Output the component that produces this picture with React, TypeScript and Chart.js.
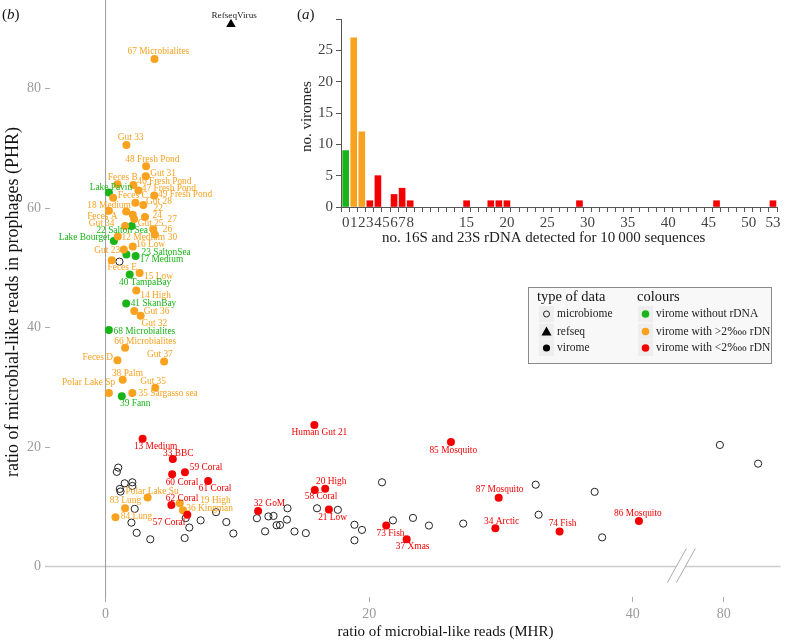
import React, { useEffect, useRef } from 'react';
import { Chart, registerables } from 'chart.js';

Chart.register(...registerables);

const SERIF = "'Liberation Serif', 'DejaVu Serif', serif";

// ---------------- scatter data (b) ----------------
const greenNames = ['Lake Pavin', '22 Salton Sea', 'Lake Bourget', '23 SaltonSea', '17 Medium', '40 TampaBay', '41 SkanBay', '68 Microbialites', '39 Fann'];
const greenMHR = [0.25, 1.98, 0.63, 1.58, 2.28, 1.83, 1.56, 0.25, 1.23];
const greenPHR = [62.6, 57.02, 54.49, 52.25, 51.97, 48.9, 44.03, 39.59, 28.5];

const orangeNames = ['67 Microbialites', 'Gut 33', '48 Fresh Pond', 'Gut 31', 'Feces B', '46 Fresh Pond', '47 Fresh Pond', 'Feces C', '49 Fresh Pond', '18 Medium', 'Feces A', 'Gut 28', '22', '27', '24', 'Gut 25', 'Gut 34', '26', '30', '12 Medium', '16 Low', 'Gut 23', 'Feces E', '15 Low', '14 High', 'Gut 36', 'Gut 32', '66 Microbialites', 'Feces D', 'Gut 37', '38 Palm', 'Polar Lake Sp', 'Gut 35', '35 Sargasso sea', 'Polar Lake Su', '83 Lung', '84 Lung', '19 High', '36 Kingman'];
const orangeMHR = [3.71, 1.58, 3.07, 3.05, 0.9, 2.11, 2.49, 2.26, 3.69, 0.57, 0.25, 2.86, 1.56, 2.06, 2.99, 2.16, 1.48, 3.61, 3.74, 0.93, 2.06, 1.38, 0.47, 2.58, 2.33, 2.18, 2.66, 1.48, 0.9, 4.44, 1.3, 0.25, 3.77, 2.03, 3.19, 1.48, 0.75, 5.63, 5.87];
const orangePHR = [84.98, 70.56, 66.99, 65.33, 63.98, 63.87, 62.94, 60.9, 62.12, 61.73, 59.54, 60.53, 59.42, 58.88, 58.5, 58.17, 57.02, 56.46, 55.59, 55.26, 53.57, 53.08, 51.27, 49.13, 46.22, 42.76, 41.99, 36.63, 34.54, 34.33, 31.25, 29.06, 29.93, 29.06, 11.56, 9.75, 8.27, 10.58, 9.42];

const redNames = ['13 Medium', '33 BBC', '60 Coral', '59 Coral', '61 Coral', '62 Coral', '57 Coral', '32 GoM', 'Human Gut 21', '20 High', '58 Coral', '21 Low', '73 Fish', '37 Xmas', '85 Mosquito', '87 Mosquito', '34 Arctic', '74 Fish', '86 Mosquito'];
const redMHR = [2.81, 5.1, 5.05, 6.02, 7.78, 4.99, 6.2, 11.57, 15.84, 16.66, 15.87, 16.94, 21.29, 22.84, 26.2, 29.82, 29.57, 34.44, 40.46];
const redPHR = [21.38, 17.98, 15.46, 15.79, 14.31, 10.31, 8.67, 9.29, 23.68, 13.04, 12.83, 9.54, 6.86, 4.56, 20.84, 11.51, 6.41, 5.87, 7.62];

const microbiomeMHR = [1.05, 0.96, 0.85, 1.45, 2.03, 2.03, 1.08, 1.13, 2.21, 1.96, 2.36, 3.39, 6.0, 6.08, 6.35, 7.21, 8.38, 9.16, 9.69, 11.48, 12.1, 12.35, 12.74, 12.97, 13.23, 13.8, 13.76, 14.33, 15.19, 16.04, 17.62, 18.88, 19.45, 18.88, 20.97, 21.8, 23.32, 24.53, 27.13, 32.63, 32.85, 37.1, 37.67, 79.7, 82.6];
const microbiomePHR = [51.04, 16.56, 15.84, 13.93, 14.1, 13.49, 12.99, 12.55, 9.65, 7.35, 5.64, 4.56, 4.77, 8.11, 6.53, 7.73, 9.1, 7.45, 5.54, 8.09, 5.89, 8.39, 8.47, 6.91, 6.96, 9.75, 7.85, 5.87, 5.59, 9.75, 9.49, 6.99, 6.13, 4.39, 14.1, 7.73, 8.14, 6.86, 7.19, 13.7, 8.67, 12.5, 4.88, 20.35, 17.22];

const refseqNames = ['RefseqVirus'];
const refseqMHR = [9.51];
const refseqPHR = [90.79];

const xTickValues = [0, 20, 40, 80];
const yTickValues = [0, 20, 40, 60, 80];

// ---------------- inset data (a) ----------------
const rdnaGreenCount = [0];
const rdnaGreenViromes = [9];
const rdnaOrangeCount = [1, 2];
const rdnaOrangeViromes = [27, 12];
const rdnaRedCount = [3, 4, 6, 7, 8, 15, 18, 19, 20, 29, 46, 53];
const rdnaRedViromes = [1, 5, 2, 3, 1, 1, 1, 1, 1, 1, 1, 1];
const insetXLabels = [0, 1, 2, 3, 4, 5, 6, 7, 8, 15, 20, 25, 30, 35, 40, 45, 50, 53];
const insetYTicks = [0, 5, 10, 15, 20, 25, 30];

// ---------------- styling ----------------
const GREEN = '#19B419';
const ORANGE = '#F8A21F';
const RED = '#F50000';

// axis break: values above BREAK_AT are shifted left by BREAK_SHIFT
const BREAK_AT = 60;
const BREAK_SHIFT = 33.1;
const BREAK_POS = 43.64;
const toAxisX = (v: number) => (v > BREAK_AT ? v - BREAK_SHIFT : v);

// label nudges in pixels (dx, dy of label centre relative to point)
const labelNudge: Record<string, [number, number]> = {
  'Lake Pavin': [2, -5.4], '22 Salton Sea': [-9.5, 4.7], 'Lake Bourget': [-29.6, -3], '23 SaltonSea': [39.7, -2.3],
  '17 Medium': [25.8, 3.3], '40 TampaBay': [15.5, 8], '41 SkanBay': [27.3, 0.4], '68 Microbialites': [35.5, 1.4], '39 Fann': [13.4, 7.3],
  '67 Microbialites': [3.9, -7.6], 'Gut 33': [4.2, -7], '48 Fresh Pond': [6.3, -7], 'Gut 31': [17.3, -2.8], 'Feces B': [5.3, -7],
  '46 Fresh Pond': [31, -3.4], '47 Fresh Pond': [30.5, -2], 'Feces C': [-2.7, -6.7], '49 Fresh Pond': [30.8, -0.6], '18 Medium': [-4, 7.3],
  'Feces A': [-6.5, 5.3], 'Gut 28': [15.7, -3], '22': [32, -2.7], '27': [39.4, 4.3], '24': [12.3, -1.3], 'Gut 25': [16.6, 4.4],
  'Gut 34': [-23.5, -2.6], '26': [14.3, 0], '30': [17.6, 2.7], '12 Medium': [25.5, 1], '16 Low': [17.9, -2], 'Gut 23': [-16.6, 1],
  'Feces E': [10.5, 7.4], '15 Low': [18.9, 3.7], '14 High': [19.3, 5], 'Gut 36': [22.2, 0.7], 'Gut 32': [13.7, 7.6],
  '66 Microbialites': [20.1, -6.3], 'Feces D': [-19.7, -2.7], 'Gut 37': [-4.2, -6.6], '38 Palm': [4.7, -6.7], 'Polar Lake Sp': [-20.3, -10.3],
  'Gut 35': [-2.2, -6.3], '35 Sargasso sea': [35.8, 0.7], 'Polar Lake Su': [4.5, -6.4], '83 Lung': [0.3, -7.7], '84 Lung': [21, -0.7],
  '19 High': [35.6, -3], '36 Kingman': [26.7, -1.4],
  '13 Medium': [13, 8], '33 BBC': [5.5, -6], '60 Coral': [9.8, 8], '59 Coral': [21.2, -4.7], '61 Coral': [7, 7.7], '62 Coral': [10.7, -6.3],
  '57 Coral': [-18.3, 7.4], '32 GoM': [11.3, -7.5], 'Human Gut 21': [5, 7.3], '20 High': [6, -7.4], '58 Coral': [6.3, 6.3], '21 Low': [3.7, 8.3],
  '73 Fish': [4.3, 7.7], '37 Xmas': [6, 7.7], '85 Mosquito': [2.3, 8.4], '87 Mosquito': [1, -8], '34 Arctic': [6.3, -6.3], '74 Fish': [3, -7.6],
  '86 Mosquito': [-1, -7.7], 'RefseqVirus': [3.2, -9],
};

const pts = (xs: number[], ys: number[]) => xs.map((x, i) => ({ x: toAxisX(x), y: ys[i] }));

const mainPlugin = {
  id: 'mainDecor',
  beforeDatasetsDraw(chart: any) {
    const { ctx, chartArea } = chart;
    const xs = chart.scales.x;
    const ys = chart.scales.y;
    const y0 = ys.getPixelForValue(0);
    const x0 = xs.getPixelForValue(0);
    const xb = xs.getPixelForValue(BREAK_POS);
    ctx.save();
    ctx.strokeStyle = '#cccccc';
    ctx.lineWidth = 1.5;
    ctx.beginPath();
    ctx.moveTo(chartArea.left - 5, y0);
    ctx.lineTo(xb - 4.5, y0);
    ctx.moveTo(xb + 4.5, y0);
    ctx.lineTo(chartArea.right, y0);
    ctx.stroke();
    ctx.strokeStyle = '#aaaaaa';
    ctx.lineWidth = 1;
    ctx.beginPath();
    for (const off of [-4.5, 4.5]) {
      ctx.moveTo(xb + off - 9, y0 + 16);
      ctx.lineTo(xb + off + 10, y0 - 18);
    }
    ctx.stroke();
    ctx.strokeStyle = '#9a9a9a';
    ctx.lineWidth = 1;
    ctx.beginPath();
    ctx.moveTo(x0, 0);
    ctx.lineTo(x0, chartArea.bottom);
    ctx.stroke();
    ctx.restore();
  },
  afterDatasetsDraw(chart: any) {
    const { ctx } = chart;
    ctx.save();
    ctx.textAlign = 'center';
    ctx.textBaseline = 'middle';
    chart.data.datasets.forEach((ds: any, i: number) => {
      if (!ds.names) return;
      const meta = chart.getDatasetMeta(i);
      ctx.fillStyle = ds.labelColor;
      ctx.font = `${ds.labelSize || 9.4}px ${SERIF}`;
      ds.names.forEach((name: string, j: number) => {
        const el = meta.data[j];
        const [dx, dy] = labelNudge[name] || [0, -8];
        ctx.fillText(name, el.x + dx, el.y + dy);
      });
    });
    ctx.restore();
  },
  afterDraw(chart: any) {
    const { ctx } = chart;
    ctx.save();
    ctx.fillStyle = '#111';
    ctx.textBaseline = 'middle';
    ctx.textAlign = 'left';
    ctx.font = `15px ${SERIF}`;
    let x = 2;
    ctx.fillText('(', x, 15);
    x += ctx.measureText('(').width;
    ctx.font = `italic 15px ${SERIF}`;
    ctx.fillText('b', x, 15);
    x += ctx.measureText('b').width;
    ctx.font = `15px ${SERIF}`;
    ctx.fillText(')', x, 15);

    ctx.fillStyle = '#111';
    ctx.textAlign = 'center';
    ctx.font = `15px ${SERIF}`;
    ctx.fillText('ratio of microbial-like reads (MHR)', 445.5, 632);
    ctx.save();
    ctx.translate(13, 302);
    ctx.rotate(-Math.PI / 2);
    ctx.font = `18px ${SERIF}`;
    ctx.fillText('ratio of microbial-like reads in prophages (PHR)', 0, 0);
    ctx.restore();

    ctx.fillStyle = '#f8f8f8';
    ctx.fillRect(528, 287, 243, 76);
    ctx.strokeStyle = '#8a8a8a';
    ctx.lineWidth = 1;
    ctx.strokeRect(528.5, 287.5, 243, 76);
    ctx.fillStyle = '#111';
    ctx.textAlign = 'left';
    ctx.font = `14.5px ${SERIF}`;
    ctx.fillText('type of data', 537, 297);
    ctx.fillText('colours', 637, 297);
    const rows = [314, 331.5, 348];
    ctx.fillStyle = '#eeeeee';
    rows.forEach((ry) => {
      ctx.fillRect(539, ry - 8, 15, 16);
      ctx.fillRect(638, ry - 8, 15, 16);
    });
    ctx.strokeStyle = '#222';
    ctx.lineWidth = 1;
    ctx.beginPath();
    ctx.arc(546.5, rows[0], 3, 0, Math.PI * 2);
    ctx.stroke();
    ctx.fillStyle = '#000';
    ctx.beginPath();
    ctx.moveTo(546.5, rows[1] - 5);
    ctx.lineTo(551.5, rows[1] + 4);
    ctx.lineTo(541.5, rows[1] + 4);
    ctx.closePath();
    ctx.fill();
    ctx.beginPath();
    ctx.arc(546.5, rows[2], 3.6, 0, Math.PI * 2);
    ctx.fill();
    [GREEN, ORANGE, RED].forEach((c, k) => {
      ctx.fillStyle = c;
      ctx.beginPath();
      ctx.arc(645.5, rows[k], 3.8, 0, Math.PI * 2);
      ctx.fill();
    });
    ctx.fillStyle = '#222';
    ctx.font = `11.5px ${SERIF}`;
    ctx.fillText('microbiome', 557, rows[0]);
    ctx.fillText('refseq', 557, rows[1]);
    ctx.fillText('virome', 557, rows[2]);
    ctx.fillText('virome without rDNA', 656, rows[0]);
    ctx.fillText('virome with >2\u2031 rDN', 656, rows[1]);
    ctx.fillText('virome with <2\u2031 rDN', 656, rows[2]);
    ctx.restore();
  },
};

const insetPlugin = {
  id: 'insetDecor',
  afterDraw(chart: any) {
    const { ctx } = chart;
    ctx.save();
    ctx.fillStyle = '#222';
    ctx.textBaseline = 'middle';
    ctx.textAlign = 'left';
    ctx.font = `15px ${SERIF}`;
    let x = 27;
    ctx.fillText('(', x, 15);
    x += ctx.measureText('(').width;
    ctx.font = `italic 15px ${SERIF}`;
    ctx.fillText('a', x, 15);
    x += ctx.measureText('a').width;
    ctx.font = `15px ${SERIF}`;
    ctx.fillText(')', x, 15);
    ctx.textAlign = 'center';
    ctx.fillStyle = '#222';
    ctx.fillText('no. 16S and 23S rDNA detected for 10\u2009000 sequences', 273.7, 238);
    ctx.save();
    ctx.translate(36.7, 116.7);
    ctx.rotate(-Math.PI / 2);
    ctx.fillText('no. viromes', 0, 0);
    ctx.restore();
    ctx.restore();
  },
};

function mainConfig(): any {
  return {
    type: 'scatter',
    data: {
      datasets: [
        { label: 'refseq', data: pts(refseqMHR, refseqPHR), names: refseqNames, labelColor: '#222', labelSize: 9.2, pointStyle: 'triangle', pointRadius: 5.5, backgroundColor: '#000', borderColor: '#000', borderWidth: 0 },
        { label: 'red', data: pts(redMHR, redPHR), names: redNames, labelColor: RED, pointRadius: 4, backgroundColor: RED, borderWidth: 0 },
        { label: 'orange', data: pts(orangeMHR, orangePHR), names: orangeNames, labelColor: ORANGE, pointRadius: 4, backgroundColor: ORANGE, borderWidth: 0 },
        { label: 'green', data: pts(greenMHR, greenPHR), names: greenNames, labelColor: GREEN, pointRadius: 4, backgroundColor: GREEN, borderWidth: 0 },
        { label: 'microbiome', data: pts(microbiomeMHR, microbiomePHR), pointRadius: 3.6, backgroundColor: 'rgba(255,255,255,0)', borderColor: '#222', borderWidth: 1 },
      ],
    },
    options: {
      responsive: false,
      animation: false,
      devicePixelRatio: 1,
      events: [],
      layout: { padding: { left: 0, right: 0, top: 2, bottom: 0 } },
      plugins: { legend: { display: false }, tooltip: { enabled: false }, title: { display: false } },
      scales: {
        x: {
          type: 'linear',
          min: -4.217,
          max: 51.2,
          afterFit: (s: any) => { s.height = 43; },
          afterBuildTicks: (s: any) => { s.ticks = xTickValues.map((v) => ({ value: toAxisX(v) })); },
          ticks: {
            autoSkip: false,
            maxRotation: 0,
            padding: 4,
            color: '#9a9a9a',
            font: { family: SERIF, size: 14 },
            callback: (_v: any, i: number) => String(xTickValues[i]),
          },
          grid: { drawOnChartArea: false, drawTicks: true, tickLength: 5, tickColor: '#aaaaaa' },
          border: { display: false },
        },
        y: {
          type: 'linear',
          min: -5.1,
          max: 92.76,
          afterFit: (s: any) => { s.width = 50; },
          afterBuildTicks: (s: any) => { s.ticks = yTickValues.map((v) => ({ value: v })); },
          ticks: {
            autoSkip: false,
            padding: 4,
            color: '#9a9a9a',
            font: { family: SERIF, size: 14 },
            callback: (v: any) => String(v),
          },
          grid: { drawOnChartArea: false, drawTicks: true, tickLength: 5, tickColor: '#aaaaaa' },
          border: { display: false },
        },
      },
    },
    plugins: [mainPlugin],
  };
}

function insetConfig(): any {
  const bars = (xs: number[], ys: number[]) => xs.map((x, i) => ({ x, y: ys[i] }));
  return {
    type: 'bar',
    data: {
      datasets: [
        { label: 'green', data: bars(rdnaGreenCount, rdnaGreenViromes), backgroundColor: GREEN, barThickness: 6, grouped: false },
        { label: 'orange', data: bars(rdnaOrangeCount, rdnaOrangeViromes), backgroundColor: ORANGE, barThickness: 6, grouped: false },
        { label: 'red', data: bars(rdnaRedCount, rdnaRedViromes), backgroundColor: RED, barThickness: 6, grouped: false },
      ],
    },
    options: {
      responsive: false,
      animation: false,
      devicePixelRatio: 1,
      events: [],
      layout: { padding: { left: 0, right: 9, top: 19, bottom: 0 } },
      plugins: { legend: { display: false }, tooltip: { enabled: false }, title: { display: false } },
      scales: {
        x: {
          type: 'linear',
          offset: false,
          min: -0.58,
          max: 53.5,
          afterFit: (s: any) => { s.height = 43; },
          afterBuildTicks: (s: any) => {
            const t: any[] = [];
            for (let v = 0; v <= 53; v++) t.push({ value: v });
            s.ticks = t;
          },
          ticks: {
            autoSkip: false,
            maxRotation: 0,
            minRotation: 0,
            padding: 2,
            color: '#444',
            font: { family: SERIF, size: 15 },
            callback: (v: any) => (insetXLabels.includes(v) ? String(v) : ''),
          },
          grid: { drawOnChartArea: false, drawTicks: true, tickLength: 5, tickColor: '#555' },
          border: { display: true, color: '#555', width: 1 },
        },
        y: {
          type: 'linear',
          min: 0,
          max: 30,
          afterFit: (s: any) => { s.width = 71; },
          afterBuildTicks: (s: any) => { s.ticks = insetYTicks.map((v) => ({ value: v })); },
          ticks: {
            autoSkip: false,
            padding: 3,
            color: '#444',
            font: { family: SERIF, size: 15 },
            callback: (v: any) => (v === 30 ? '' : String(v)),
          },
          grid: { drawOnChartArea: false, drawTicks: true, tickLength: 5, tickColor: '#555' },
          border: { display: true, color: '#555', width: 1 },
        },
      },
    },
    plugins: [insetPlugin],
  };
}

export default function App() {
  const mainRef = useRef<HTMLCanvasElement>(null);
  const insetRef = useRef<HTMLCanvasElement>(null);
  useEffect(() => {
    const main = new Chart(mainRef.current as HTMLCanvasElement, mainConfig());
    const inset = new Chart(insetRef.current as HTMLCanvasElement, insetConfig());
    return () => {
      main.destroy();
      inset.destroy();
    };
  }, []);
  return (
    <div style={{ position: 'absolute', left: 0, top: 0, width: 786, height: 640, background: '#fff', overflow: 'hidden' }}>
      <canvas ref={mainRef} width={786} height={640} style={{ position: 'absolute', left: 0, top: 0, width: 786, height: 640 }} />
      <canvas ref={insetRef} width={516} height={250} style={{ position: 'absolute', left: 270, top: 0, width: 516, height: 250 }} />
    </div>
  );
}
